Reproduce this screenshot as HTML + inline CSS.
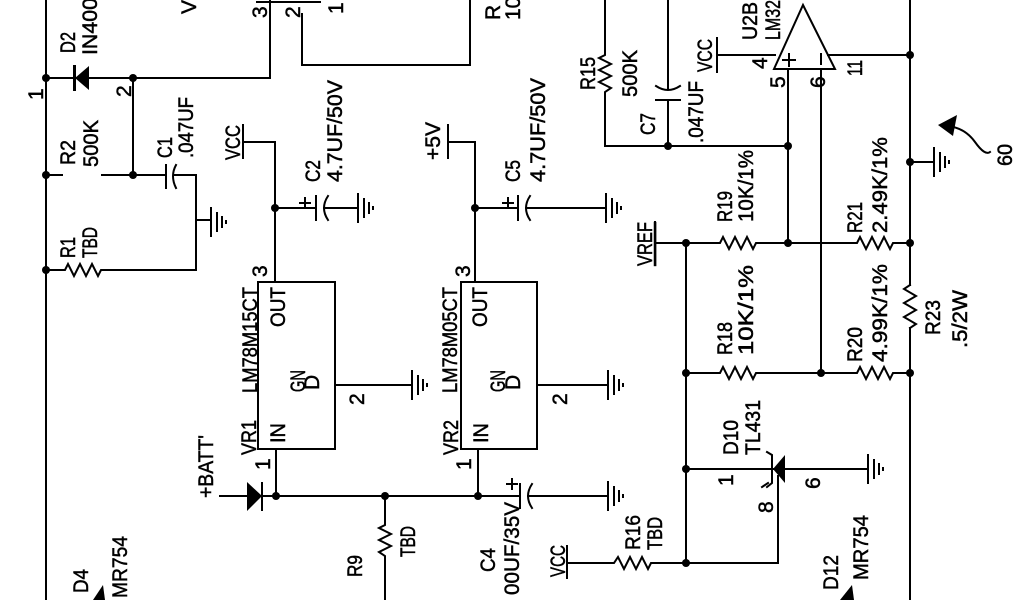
<!DOCTYPE html>
<html><head><meta charset="utf-8"><style>
html,body{margin:0;padding:0;background:#fff;width:1024px;height:600px;overflow:hidden}
svg{display:block}
text{font-family:"Liberation Sans",sans-serif;font-size:21px;fill:#000;stroke:#000;stroke-width:0.5}
</style></head><body>
<svg width="1024" height="600" viewBox="0 0 1024 600" xmlns="http://www.w3.org/2000/svg">
<g stroke="#000" stroke-width="2" fill="none" stroke-linecap="square">
<line x1="46" y1="0" x2="46" y2="600"/>
<line x1="46" y1="78" x2="270" y2="78"/>
<line x1="270" y1="78" x2="270" y2="0"/>
<line x1="133" y1="78" x2="133" y2="175"/>
<line x1="46" y1="175" x2="62" y2="175"/>
<line x1="102" y1="175" x2="166" y2="175"/>
<line x1="174" y1="175" x2="196" y2="175"/>
<line x1="196" y1="175" x2="196" y2="270"/>
<line x1="196" y1="220" x2="211" y2="220"/>
<polyline points="46,270 65,270 68,264 74,276 80,264 86,276 92,264 98,276 101,270 196,270"/>
<line x1="302" y1="14" x2="302" y2="65"/>
<line x1="302" y1="65" x2="470" y2="65"/>
<line x1="470" y1="65" x2="470" y2="0"/>
<line x1="257" y1="2" x2="320" y2="2"/>
<line x1="166" y1="165" x2="166" y2="188"/>
<path d="M176 165 Q170 176 176 188"/>
<line x1="243" y1="125" x2="243" y2="158"/>
<line x1="243" y1="142" x2="275" y2="142"/>
<line x1="275" y1="142" x2="275" y2="282"/>
<line x1="275" y1="208" x2="316" y2="208"/>
<line x1="316" y1="196" x2="316" y2="220"/>
<path d="M328 196 Q320 208 328 220"/>
<line x1="324" y1="208" x2="358" y2="208"/>
<rect x="258" y="282" width="77" height="167"/>
<line x1="335" y1="385" x2="412" y2="385"/>
<line x1="276" y1="449" x2="276" y2="496"/>
<line x1="220" y1="496" x2="520" y2="496"/>
<line x1="448" y1="125" x2="448" y2="158"/>
<line x1="448" y1="142" x2="475" y2="142"/>
<line x1="475" y1="142" x2="475" y2="282"/>
<line x1="475" y1="208" x2="518" y2="208"/>
<line x1="518" y1="196" x2="518" y2="220"/>
<path d="M530 196 Q522 208 530 220"/>
<line x1="526" y1="208" x2="606" y2="208"/>
<rect x="461" y="282" width="76" height="167"/>
<line x1="537" y1="385" x2="608" y2="385"/>
<line x1="478" y1="449" x2="478" y2="496"/>
<line x1="520" y1="484" x2="520" y2="508"/>
<path d="M532 484 Q524 496 532 508"/>
<line x1="528" y1="496" x2="608" y2="496"/>
<polyline points="385,496 385,525 379,528 391,534 379,540 391,546 379,552 385,556 385,600"/>
<line x1="567" y1="546" x2="567" y2="578"/>
<polyline points="567,563 614,563 618,557 624,569 630,557 636,569 642,557 648,569 651,563 687,563"/>
<polyline points="605,0 605,55 599,58 611,64 599,70 611,76 599,82 611,88 605,92 605,146 788,146"/>
<line x1="668" y1="0" x2="668" y2="88"/>
<path d="M656 86 Q668 94 680 86"/>
<line x1="656" y1="100" x2="680" y2="100"/>
<line x1="668" y1="100" x2="668" y2="146"/>
<line x1="717" y1="38" x2="717" y2="72"/>
<line x1="717" y1="55" x2="775" y2="55"/>
<polygon points="774,69 835,69 803,5"/>
<line x1="788" y1="69" x2="788" y2="243"/>
<line x1="821" y1="69" x2="821" y2="373"/>
<line x1="828" y1="55" x2="910" y2="55"/>
<line x1="910" y1="0" x2="910" y2="285"/>
<line x1="910" y1="328" x2="910" y2="600"/>
<line x1="910" y1="162" x2="934" y2="162"/>
<line x1="783" y1="60" x2="795" y2="60"/><line x1="789" y1="54" x2="789" y2="66"/>
<line x1="821" y1="54" x2="821" y2="64"/>
<path d="M948 126 Q965 128 975 142 Q985 156 990 152"/>
<line x1="655" y1="222" x2="655" y2="264"/>
<polyline points="655,243 720,243 723,237 729,249 735,237 741,249 747,237 753,249 756,243 857,243 860,237 866,249 872,237 878,249 884,237 890,249 893,243 910,243"/>
<line x1="686" y1="243" x2="686" y2="563"/>
<polyline points="686,373 720,373 723,367 729,379 735,367 741,379 747,367 753,379 756,373 857,373 860,367 866,379 872,367 878,379 884,367 890,379 893,373 910,373"/>
<polyline points="910,285 904,289 916,296 904,303 916,310 904,317 916,324 910,328"/>
<line x1="686" y1="469" x2="868" y2="469"/>
<polyline points="767,452 772,455 772,483 767,487"/>
<line x1="778" y1="476" x2="778" y2="563"/>
<line x1="686" y1="563" x2="778" y2="563"/>
<line x1="768" y1="483" x2="762" y2="487"/>
</g>
<g fill="#000">
<polygon points="75,78 89,66 89,90"/>
<rect x="73" y="65" width="3" height="26"/>
<polygon points="247,482 247,511 262,496"/>
<rect x="261" y="482" width="2" height="29"/>
<polygon points="773,469 785,455 785,483"/>
<polygon points="938,125 957,115 953,136"/>
<polygon points="93,600 103,585 105,600"/>
<polygon points="840,600 852,585 854,600"/>
<circle cx="46" cy="78" r="4"/><circle cx="133" cy="78" r="4"/>
<circle cx="46" cy="175" r="4"/><circle cx="133" cy="175" r="4"/>
<circle cx="46" cy="270" r="4"/>
<circle cx="275" cy="208" r="4"/><circle cx="475" cy="208" r="4"/>
<circle cx="276" cy="496" r="4"/><circle cx="385" cy="496" r="4"/><circle cx="478" cy="496" r="4"/>
<circle cx="668" cy="146" r="4"/><circle cx="788" cy="146" r="4"/>
<circle cx="910" cy="55" r="4"/><circle cx="910" cy="162" r="4"/>
<circle cx="686" cy="243" r="4"/><circle cx="788" cy="243" r="4"/><circle cx="910" cy="243" r="4"/>
<circle cx="686" cy="373" r="4"/><circle cx="821" cy="373" r="4"/><circle cx="910" cy="373" r="4"/>
<circle cx="686" cy="469" r="4"/><circle cx="686" cy="563" r="4"/>
</g>
<g stroke="#000" stroke-width="2">
<g transform="translate(211,222)"><line x1="0" y1="-15" x2="0" y2="15"/><line x1="6" y1="-10" x2="6" y2="10"/><line x1="11" y1="-6" x2="11" y2="6"/><line x1="15" y1="-2" x2="15" y2="2"/></g>
<g transform="translate(358,208)"><line x1="0" y1="-15" x2="0" y2="15"/><line x1="6" y1="-10" x2="6" y2="10"/><line x1="11" y1="-6" x2="11" y2="6"/><line x1="15" y1="-2" x2="15" y2="2"/></g>
<g transform="translate(606,208)"><line x1="0" y1="-15" x2="0" y2="15"/><line x1="6" y1="-10" x2="6" y2="10"/><line x1="11" y1="-6" x2="11" y2="6"/><line x1="15" y1="-2" x2="15" y2="2"/></g>
<g transform="translate(412,385)"><line x1="0" y1="-15" x2="0" y2="15"/><line x1="6" y1="-10" x2="6" y2="10"/><line x1="11" y1="-6" x2="11" y2="6"/><line x1="15" y1="-2" x2="15" y2="2"/></g>
<g transform="translate(608,385)"><line x1="0" y1="-15" x2="0" y2="15"/><line x1="6" y1="-10" x2="6" y2="10"/><line x1="11" y1="-6" x2="11" y2="6"/><line x1="15" y1="-2" x2="15" y2="2"/></g>
<g transform="translate(608,496)"><line x1="0" y1="-15" x2="0" y2="15"/><line x1="6" y1="-10" x2="6" y2="10"/><line x1="11" y1="-6" x2="11" y2="6"/><line x1="15" y1="-2" x2="15" y2="2"/></g>
<g transform="translate(934,162)"><line x1="0" y1="-15" x2="0" y2="15"/><line x1="6" y1="-10" x2="6" y2="10"/><line x1="11" y1="-6" x2="11" y2="6"/><line x1="15" y1="-2" x2="15" y2="2"/></g>
<g transform="translate(868,469)"><line x1="0" y1="-15" x2="0" y2="15"/><line x1="6" y1="-10" x2="6" y2="10"/><line x1="11" y1="-6" x2="11" y2="6"/><line x1="15" y1="-2" x2="15" y2="2"/></g>
<line x1="305" y1="197" x2="305" y2="209"/><line x1="299" y1="203" x2="311" y2="203"/>
<line x1="508" y1="197" x2="508" y2="209"/><line x1="502" y1="203" x2="514" y2="203"/>
<line x1="512" y1="478" x2="512" y2="490"/><line x1="506" y1="484" x2="518" y2="484"/>
</g>
<g>
<text transform="translate(43,100) rotate(-90)">1</text>
<text transform="translate(75,53) rotate(-90)" textLength="21" lengthAdjust="spacingAndGlyphs">D2</text>
<text transform="translate(97,55) rotate(-90)" textLength="57" lengthAdjust="spacingAndGlyphs">IN400</text>
<text transform="translate(131,97) rotate(-90)">2</text>
<text transform="translate(75,165) rotate(-90)" textLength="25" lengthAdjust="spacingAndGlyphs">R2</text>
<text transform="translate(98,167) rotate(-90)" textLength="47" lengthAdjust="spacingAndGlyphs">500K</text>
<text transform="translate(172,158) rotate(-90)" textLength="21" lengthAdjust="spacingAndGlyphs">C1</text>
<text transform="translate(193,158) rotate(-90)" textLength="61" lengthAdjust="spacingAndGlyphs">.047UF</text>
<text transform="translate(75,258) rotate(-90)" textLength="21" lengthAdjust="spacingAndGlyphs">R1</text>
<text transform="translate(97,258) rotate(-90)" textLength="31" lengthAdjust="spacingAndGlyphs">TBD</text>
<text transform="translate(196,14) rotate(-90)">V</text>
<text transform="translate(267,18) rotate(-90)">3</text>
<text transform="translate(300,18) rotate(-90)">2</text>
<text transform="translate(343,14) rotate(-90)">1</text>
<text transform="translate(500,20) rotate(-90)">R</text>
<text transform="translate(520,20) rotate(-90)">10</text>
<text transform="translate(240,160) rotate(-90)" textLength="35" lengthAdjust="spacingAndGlyphs">VCC</text>
<text transform="translate(320,182) rotate(-90)" textLength="22" lengthAdjust="spacingAndGlyphs">C2</text>
<text transform="translate(342,182) rotate(-90)" textLength="102" lengthAdjust="spacingAndGlyphs">4.7UF/50V</text>
<text transform="translate(267,277) rotate(-90)">3</text>
<text transform="translate(257,393) rotate(-90)" textLength="106" lengthAdjust="spacingAndGlyphs">LM78M15CT</text>
<text transform="translate(285,327) rotate(-90)" textLength="40" lengthAdjust="spacingAndGlyphs">OUT</text>
<text transform="translate(305,392) rotate(-90)" textLength="22" lengthAdjust="spacingAndGlyphs">GN</text>
<text transform="translate(319,390) rotate(-90)">D</text>
<text transform="translate(364,405) rotate(-90)">2</text>
<text transform="translate(256,455) rotate(-90)" textLength="35" lengthAdjust="spacingAndGlyphs">VR1</text>
<text transform="translate(285,443) rotate(-90)" textLength="20" lengthAdjust="spacingAndGlyphs">IN</text>
<text transform="translate(270,470) rotate(-90)">1</text>
<text transform="translate(213,498) rotate(-90)" textLength="63" lengthAdjust="spacingAndGlyphs">+BATT'</text>
<text transform="translate(440,160) rotate(-90)" textLength="38" lengthAdjust="spacingAndGlyphs">+5V</text>
<text transform="translate(520,182) rotate(-90)" textLength="22" lengthAdjust="spacingAndGlyphs">C5</text>
<text transform="translate(545,182) rotate(-90)" textLength="104" lengthAdjust="spacingAndGlyphs">4.7UF/50V</text>
<text transform="translate(470,277) rotate(-90)">3</text>
<text transform="translate(457,393) rotate(-90)" textLength="106" lengthAdjust="spacingAndGlyphs">LM78M05CT</text>
<text transform="translate(487,327) rotate(-90)" textLength="40" lengthAdjust="spacingAndGlyphs">OUT</text>
<text transform="translate(505,392) rotate(-90)" textLength="22" lengthAdjust="spacingAndGlyphs">GN</text>
<text transform="translate(520,390) rotate(-90)">D</text>
<text transform="translate(567,405) rotate(-90)">2</text>
<text transform="translate(458,455) rotate(-90)" textLength="35" lengthAdjust="spacingAndGlyphs">VR2</text>
<text transform="translate(488,443) rotate(-90)" textLength="20" lengthAdjust="spacingAndGlyphs">IN</text>
<text transform="translate(471,470) rotate(-90)">1</text>
<text transform="translate(362,577) rotate(-90)" textLength="22" lengthAdjust="spacingAndGlyphs">R9</text>
<text transform="translate(415,557) rotate(-90)" textLength="31" lengthAdjust="spacingAndGlyphs">TBD</text>
<text transform="translate(495,572) rotate(-90)" textLength="24" lengthAdjust="spacingAndGlyphs">C4</text>
<text transform="translate(519,595) rotate(-90)" textLength="93" lengthAdjust="spacingAndGlyphs">00UF/35V</text>
<text transform="translate(565,577) rotate(-90)" textLength="32" lengthAdjust="spacingAndGlyphs">VCC</text>
<text transform="translate(640,550) rotate(-90)" textLength="35" lengthAdjust="spacingAndGlyphs">R16</text>
<text transform="translate(662,550) rotate(-90)" textLength="33" lengthAdjust="spacingAndGlyphs">TBD</text>
<text transform="translate(88,593) rotate(-90)" textLength="24" lengthAdjust="spacingAndGlyphs">D4</text>
<text transform="translate(127,598) rotate(-90)" textLength="62" lengthAdjust="spacingAndGlyphs">MR754</text>
<text transform="translate(595,90) rotate(-90)" textLength="33" lengthAdjust="spacingAndGlyphs">R15</text>
<text transform="translate(637,97) rotate(-90)" textLength="47" lengthAdjust="spacingAndGlyphs">500K</text>
<text transform="translate(655,135) rotate(-90)" textLength="22" lengthAdjust="spacingAndGlyphs">C7</text>
<text transform="translate(703,143) rotate(-90)" textLength="62" lengthAdjust="spacingAndGlyphs">.047UF</text>
<text transform="translate(712,72) rotate(-90)" textLength="33" lengthAdjust="spacingAndGlyphs">VCC</text>
<text transform="translate(757,40) rotate(-90)" textLength="38" lengthAdjust="spacingAndGlyphs">U2B</text>
<text transform="translate(780,40) rotate(-90)" textLength="40" lengthAdjust="spacingAndGlyphs">LM32</text>
<text transform="translate(767,69) rotate(-90)">4</text>
<text transform="translate(785,88) rotate(-90)">5</text>
<text transform="translate(825,88) rotate(-90)">6</text>
<text transform="translate(862,76) rotate(-90)" textLength="16" lengthAdjust="spacingAndGlyphs">11</text>
<text transform="translate(1012,166) rotate(-90)" textLength="22" lengthAdjust="spacingAndGlyphs">60</text>
<text transform="translate(652,266) rotate(-90)" textLength="44" lengthAdjust="spacingAndGlyphs" text-decoration="underline">VREF</text>
<text transform="translate(732,222) rotate(-90)" textLength="31" lengthAdjust="spacingAndGlyphs">R19</text>
<text transform="translate(753,222) rotate(-90)" textLength="72" lengthAdjust="spacingAndGlyphs">10K/1%</text>
<text transform="translate(862,233) rotate(-90)" textLength="31" lengthAdjust="spacingAndGlyphs">R21</text>
<text transform="translate(887,233) rotate(-90)" textLength="96" lengthAdjust="spacingAndGlyphs">2.49K/1%</text>
<text transform="translate(732,355) rotate(-90)" textLength="33" lengthAdjust="spacingAndGlyphs">R18</text>
<text transform="translate(753,355) rotate(-90)" textLength="90" lengthAdjust="spacingAndGlyphs">10K/1%</text>
<text transform="translate(862,362) rotate(-90)" textLength="35" lengthAdjust="spacingAndGlyphs">R20</text>
<text transform="translate(887,362) rotate(-90)" textLength="98" lengthAdjust="spacingAndGlyphs">4.99K/1%</text>
<text transform="translate(940,335) rotate(-90)" textLength="35" lengthAdjust="spacingAndGlyphs">R23</text>
<text transform="translate(967,348) rotate(-90)" textLength="58" lengthAdjust="spacingAndGlyphs">.5/2W</text>
<text transform="translate(738,455) rotate(-90)" textLength="35" lengthAdjust="spacingAndGlyphs">D10</text>
<text transform="translate(760,455) rotate(-90)" textLength="55" lengthAdjust="spacingAndGlyphs">TL431</text>
<text transform="translate(733,486) rotate(-90)">1</text>
<text transform="translate(820,489) rotate(-90)">6</text>
<text transform="translate(773,513) rotate(-90)">8</text>
<text transform="translate(838,590) rotate(-90)" textLength="35" lengthAdjust="spacingAndGlyphs">D12</text>
<text transform="translate(868,580) rotate(-90)" textLength="65" lengthAdjust="spacingAndGlyphs">MR754</text>
</g>
</svg>
</body></html>
